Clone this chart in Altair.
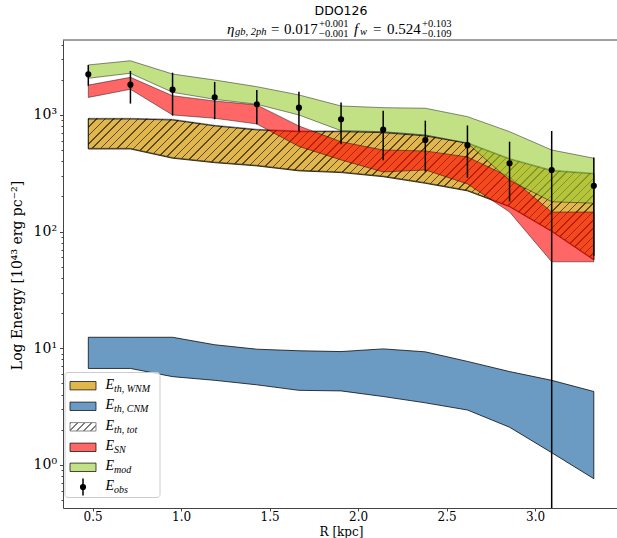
import math
import pandas as pd
import altair as alt

# Radial bins [kpc]
R = [0.476, 0.714, 0.952, 1.190, 1.428, 1.666, 1.904, 2.142, 2.380, 2.618, 2.856, 3.094, 3.332]

# Energy bands [1e43 erg pc^-2]
E_WNM_HI = [922, 922, 904, 804, 743, 718, 718, 704, 660, 571, 417, 331, 312]
E_WNM_LO = [510, 510, 425, 389, 365, 331, 320, 295, 259, 223, 163, 100, 57]
E_CNM_HI = [12.4, 12.4, 12.4, 10.7, 9.8, 9.5, 9.35, 9.86, 9.3, 7.7, 6.3, 5.3, 4.25]
E_CNM_LO = [6.7, 6.7, 5.7, 5.3, 4.85, 4.35, 4.3, 3.85, 3.4, 2.95, 2.1, 1.27, 0.76]
E_SN_HI = [1800, 2100, 1460, 1316, 1217, 804, 589, 500, 491, 436, 294, 147, 147]
E_SN_LO = [1410, 1657, 998, 935, 836, 536, 411, 324, 337, 256, 147, 55, 55]
E_MOD_HI = [2680, 2910, 2240, 1990, 1745, 1482, 1192, 1153, 1140, 966, 718, 500, 425]
E_MOD_LO = [2060, 2274, 1562, 1360, 1233, 998, 732, 718, 673, 571, 275, 180, 175]
E_OBS = [2228, 1815, 1644, 1416, 1233, 1153, 917, 747, 609, 550, 385, 337, 247]
E_OBS_ERR = [450, 565, 656, 498, 402, 428, 357, 339, 283, 261, 204, 391, 185]

# total thermal energy = warm + cold phase
E_TOT_HI = [a + b for a, b in zip(E_WNM_HI, E_CNM_HI)]
E_TOT_LO = [a + b for a, b in zip(E_WNM_LO, E_CNM_LO)]

# geometry of the plot area
W, H = 554, 468
PAD = {"left": 63, "top": 40, "right": 0, "bottom": 30}
X_DOM = [0.333, 3.463]
Y_DOM = [0.4263, 4385]

SERIF = "DejaVu Serif"
MATH = "Liberation Serif"


def px(x):
    return W * (x - X_DOM[0]) / (X_DOM[1] - X_DOM[0])


def py(v):
    l0, l1 = math.log10(Y_DOM[0]), math.log10(Y_DOM[1])
    return H * (l1 - math.log10(v)) / (l1 - l0)


def hatch(bw, bh, spacing=8.3, lw=1.1, ink="rgba(0,0,0,0.6)", gap="rgba(0,0,0,0)"):
    """Linear gradient that draws '/' hatching over a box of bw x bh pixels."""
    k = (bw + bh) * bw / (bw * bw + bh * bh) * 1.02
    span = k * bw * (1 + (bh / bw) ** 2)
    n = int(span / spacing) + 2
    w = lw * math.sqrt(2) / span
    stops = []
    for i in range(n):
        a = i * spacing / span
        b = a + w
        nxt = (i + 1) * spacing / span
        if a > 1:
            break
        stops += [
            {"offset": min(a, 1), "color": ink},
            {"offset": min(b, 1), "color": ink},
            {"offset": min(b, 1), "color": gap},
            {"offset": min(nxt, 1), "color": gap},
        ]
    return {"gradient": "linear", "x1": 0, "y1": 0, "x2": k, "y2": k * bh / bw, "stops": stops}


x_scale = alt.Scale(domain=X_DOM, nice=False, zero=False)
y_scale = alt.Scale(type="log", domain=Y_DOM, nice=False)

majors = [1, 10, 100, 1000]
minors = [m * 10.0 ** d for d in range(-1, 4) for m in range(2, 10)]
y_ticks = sorted(v for v in majors + minors if Y_DOM[0] <= v <= Y_DOM[1])
is_major = "datum.value == 1 || datum.value == 10 || datum.value == 100 || datum.value == 1000"

x_axis = alt.Axis(
    values=[0.5, 1.0, 1.5, 2.0, 2.5, 3.0], format=".1f", title="R [kpc]",
    labelFont=SERIF, labelFontSize=12, labelColor="black", labelPadding=0,
    titleFont=SERIF, titleFontSize=12, titleFontWeight="normal", titleColor="black",
    titleY=23, titleBaseline="middle", titleX=W / 2 + 1, titleAlign="center",
    tickSize=3, tickColor="#444", domainColor="#444", grid=False,
    labelFlush=False,
)
y_axis = alt.Axis(
    values=y_ticks,
    labelExpr="datum.value == 1 ? '10⁰' : datum.value == 10 ? '10¹' : "
              "datum.value == 100 ? '10²' : datum.value == 1000 ? '10³' : ''",
    labelFont=SERIF, labelFontSize=14, labelColor="black", labelPadding=3,
    labelOverlap=False, labelFlush=False,
    title="Log Energy [10⁴³ erg pc⁻²]", titleFont=SERIF, titleFontSize=14,
    titleFontWeight="normal", titleColor="black", titleX=-46, titleY=235,
    titleAlign="center", titleBaseline="middle", titleAngle=-90,
    tickSize={"condition": {"test": is_major, "value": 3.5}, "value": 2},
    tickColor="#444", domainColor="#444", grid=False,
)


def band_frame(lo, hi):
    return pd.DataFrame({"R": R, "lo": lo, "hi": hi})


def band(lo, hi, fill, fill_op, edge_op):
    return alt.Chart(band_frame(lo, hi)).mark_area(
        fill=fill, fillOpacity=fill_op, stroke="black", strokeOpacity=edge_op,
        strokeWidth=1, clip=True,
    ).encode(
        x=alt.X("R:Q", scale=x_scale, axis=x_axis),
        y=alt.Y("hi:Q", scale=y_scale, axis=y_axis),
        y2="lo:Q",
    )


wnm = band(E_WNM_LO, E_WNM_HI, "#DAA520", 0.8, 0.75)
cnm = band(E_CNM_LO, E_CNM_HI, "#4682B4", 0.8, 0.75)

tot_w = px(R[-1]) - px(R[0])
tot_h = py(min(E_TOT_LO)) - py(max(E_TOT_HI))
tot = alt.Chart(band_frame(E_TOT_LO, E_TOT_HI)).mark_area(
    fill=hatch(tot_w, tot_h), stroke="black", strokeOpacity=0.45, strokeWidth=1, clip=True,
).encode(
    x=alt.X("R:Q", scale=x_scale, axis=x_axis),
    y=alt.Y("hi:Q", scale=y_scale, axis=y_axis),
    y2="lo:Q",
)

sn = band(E_SN_LO, E_SN_HI, "#FF0000", 0.6, 0.45)
mod = band(E_MOD_LO, E_MOD_HI, "#9ACD32", 0.6, 0.45)

obs_df = pd.DataFrame({
    "R": R, "E": E_OBS,
    "lo": [max(v - e, Y_DOM[0] * 0.5) for v, e in zip(E_OBS, E_OBS_ERR)],
    "hi": [v + e for v, e in zip(E_OBS, E_OBS_ERR)],
})
err = alt.Chart(obs_df).mark_rule(color="black", strokeWidth=1.5, clip=True).encode(
    x=alt.X("R:Q", scale=x_scale, axis=x_axis),
    y=alt.Y("lo:Q", scale=y_scale, axis=y_axis),
    y2="hi:Q",
)
pts = alt.Chart(obs_df).mark_circle(color="black", size=38, opacity=1, clip=True).encode(
    x=alt.X("R:Q", scale=x_scale, axis=x_axis),
    y=alt.Y("E:Q", scale=y_scale, axis=y_axis),
)

one = pd.DataFrame({"k": [0]})

# top spine
top_rule = alt.Chart(one).mark_rule(color="#444", strokeWidth=1).encode(
    x=alt.value(0), x2=alt.value(W), y=alt.value(0)
)


def text(s, x, y, size, font, style="normal", align="left", color="black"):
    return alt.Chart(pd.DataFrame({"t": [s]})).mark_text(
        align=align, baseline="middle", font=font, fontSize=size, fontStyle=style, color=color,
    ).encode(x=alt.value(x - PAD["left"]), y=alt.value(y - PAD["top"]), text="t:N")


def box(x0, x1, y0, y1, fill, stroke="none", fill_op=1.0, stroke_op=1.0, radius=0):
    return alt.Chart(one).mark_rect(
        fill=fill, fillOpacity=fill_op, stroke=stroke, strokeOpacity=stroke_op,
        strokeWidth=1, cornerRadius=radius,
    ).encode(
        x=alt.value(x0 - PAD["left"]), x2=alt.value(x1 - PAD["left"]),
        y=alt.value(y0 - PAD["top"]), y2=alt.value(y1 - PAD["top"]),
    )


# title block
title = [
    text("DDO126", 341, 11, 12.5, "DejaVu Sans", align="center"),
    text("η", 227, 28.5, 15, MATH, "italic"),
    text("gb, 2ph", 235, 32, 10.5, MATH, "italic"),
    text("=", 271, 28.5, 15, MATH),
    text("0.017", 284, 28.5, 15, MATH),
    text("+0.001", 319, 24, 10.5, MATH),
    text("−0.001", 319, 34, 10.5, MATH),
    text("f", 354, 28.5, 15, MATH, "italic"),
    text("w", 360, 32, 10.5, MATH, "italic"),
    text("=", 373, 28.5, 15, MATH),
    text("0.524", 387, 28.5, 15, MATH),
    text("+0.103", 422, 24, 10.5, MATH),
    text("−0.109", 422, 34, 10.5, MATH),
]

# legend
rows = [385.7, 406.3, 426.8, 447.3, 467.3, 487.0]
sw_x0, sw_x1 = 70, 96
legend = [box(65, 160, 372.5, 497.5, "white", "#cccccc", 0.8, 1.0, 3)]
swatch_fills = [("#DAA520", 0.8), ("#4682B4", 0.8), (None, 1), ("#FF0000", 0.6), ("#9ACD32", 0.6)]
for yc, (col, op) in zip(rows[:5], swatch_fills):
    if col is None:
        legend.append(box(sw_x0, sw_x1, yc - 4.2, yc + 4.2, "white"))
        legend.append(
            alt.Chart(one).mark_rect(
                fill=hatch(sw_x1 - sw_x0, 8.4, spacing=7, lw=1.0, ink="rgba(90,90,90,0.8)"),
                stroke="#888", strokeWidth=1,
            ).encode(
                x=alt.value(sw_x0 - PAD["left"]), x2=alt.value(sw_x1 - PAD["left"]),
                y=alt.value(yc - 4.2 - PAD["top"]), y2=alt.value(yc + 4.2 - PAD["top"]),
            )
        )
    else:
        legend.append(box(sw_x0, sw_x1, yc - 4.2, yc + 4.2, col, "black", op, 0.7))
subs = ["th, WNM", "th, CNM", "th, tot", "SN", "mod", "obs"]
for yc, s in zip(rows, subs):
    legend.append(text("E", 105.5, yc - 1, 14, MATH, "italic"))
    legend.append(text(s, 114, yc + 3, 10, MATH, "italic"))
ob_x = 83 - PAD["left"]
legend.append(
    alt.Chart(one).mark_rule(color="black", strokeWidth=1.5).encode(
        x=alt.value(ob_x), y=alt.value(478.5 - PAD["top"]), y2=alt.value(495.5 - PAD["top"])
    )
)
legend.append(
    alt.Chart(one).mark_circle(color="black", size=38, opacity=1).encode(
        x=alt.value(ob_x), y=alt.value(487 - PAD["top"])
    )
)

chart = alt.layer(
    wnm, cnm, tot, sn, mod, err, pts, top_rule, *title, *legend
).properties(
    width=W, height=H,
    autosize=alt.AutoSizeParams(type="none"),
    padding=PAD,
).configure_view(stroke=None)

chart.save("out.html", embed_options={"renderer": "svg", "actions": False})
